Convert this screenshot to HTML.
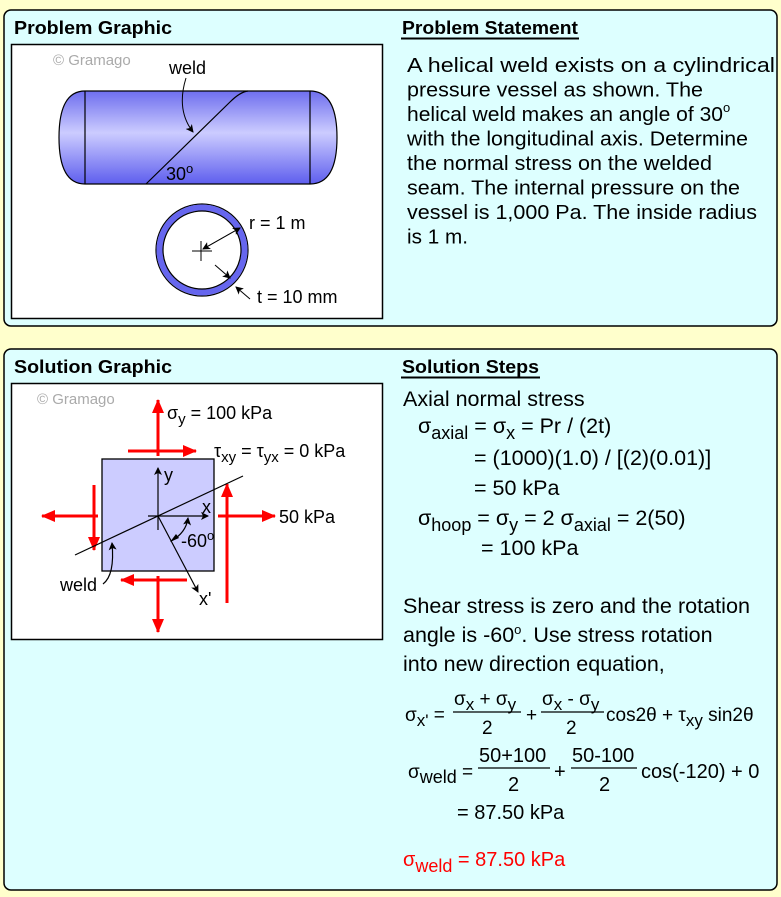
<!DOCTYPE html>
<html><head><meta charset="utf-8"><style>
html,body{margin:0;padding:0;background:#ffffcc;}
svg{display:block;font-family:"Liberation Sans",Arial,sans-serif;}
</style></head><body>
<svg width="781" height="897" viewBox="0 0 781 897" xmlns="http://www.w3.org/2000/svg">
<defs>
<linearGradient id="cyl" x1="0" y1="0" x2="0" y2="1">
<stop offset="0" stop-color="#6e6eee"/><stop offset="0.45" stop-color="#ccccff"/><stop offset="1" stop-color="#5e5eee"/>
</linearGradient>
<marker id="ah" markerWidth="8" markerHeight="8" refX="7" refY="4" orient="auto" markerUnits="userSpaceOnUse"><path d="M0,0 L8,4 L0,8 L2,4 z" fill="#000"/></marker>
<marker id="rh" markerWidth="14" markerHeight="12" refX="13" refY="6" orient="auto" markerUnits="userSpaceOnUse"><path d="M0,0 L14,6 L0,12 z" fill="#ff0000"/></marker>
</defs>
<rect x="0" y="0" width="781" height="897" fill="#ffffcc"/>
<rect x="4" y="10" width="773" height="316" rx="7" fill="#ddffff" stroke="#000" stroke-width="1.5"/>
<rect x="4" y="349" width="773" height="541" rx="7" fill="#ddffff" stroke="#000" stroke-width="1.5"/>
<g font-size="18" font-weight="bold">
<text x="14" y="34" textLength="158" lengthAdjust="spacingAndGlyphs">Problem Graphic</text>
<text x="402" y="34" textLength="176" lengthAdjust="spacingAndGlyphs">Problem Statement</text>
<text x="14" y="373" textLength="158" lengthAdjust="spacingAndGlyphs">Solution Graphic</text>
<text x="402" y="373" textLength="137" lengthAdjust="spacingAndGlyphs">Solution Steps</text>
</g>
<line x1="401" y1="38.5" x2="579" y2="38.5" stroke="#000" stroke-width="2"/>
<line x1="401" y1="377.5" x2="540" y2="377.5" stroke="#000" stroke-width="2"/>

<rect x="11.5" y="44.5" width="371" height="274" fill="#fff" stroke="#000" stroke-width="1.5"/>
<text x="53" y="65" font-size="15" fill="#aaa">© Gramago</text>
<path d="M85,91 L310,91 Q337,91 337,137.5 Q337,184 310,184 L85,184 Q59,184 59,137.5 Q59,91 85,91 z" fill="url(#cyl)" stroke="#000" stroke-width="1.2"/>
<line x1="85" y1="91" x2="85" y2="184" stroke="#000" stroke-width="1.2"/>
<line x1="310" y1="91" x2="310" y2="184" stroke="#000" stroke-width="1.2"/>
<path d="M146,184 L230,102 Q240,92 248,91" fill="none" stroke="#000" stroke-width="1.2"/>
<text x="169" y="74" font-size="18">weld</text>
<path d="M186,78 Q176,110 193,132" fill="none" stroke="#000" stroke-width="1" marker-end="url(#ah)"/>
<text x="166" y="180" font-size="18">30<tspan font-size="13" dy="-7">o</tspan></text>
<circle cx="202" cy="250" r="46" fill="none" stroke="#000" stroke-width="1.2"/>
<circle cx="202" cy="250" r="42.5" fill="none" stroke="#6666ee" stroke-width="6"/>
<circle cx="202" cy="250" r="39" fill="#fff" stroke="#000" stroke-width="1.2"/>
<line x1="192" y1="251" x2="212" y2="251" stroke="#000"/><line x1="201" y1="241" x2="201" y2="261" stroke="#000"/>
<line x1="203" y1="249" x2="240" y2="228" stroke="#000" marker-end="url(#ah)"/>
<line x1="240" y1="228" x2="203" y2="249" stroke="#000" marker-end="url(#ah)"/>
<text x="249" y="229" font-size="18">r = 1 m</text>
<line x1="215" y1="265" x2="230" y2="278" stroke="#000" marker-end="url(#ah)"/>
<line x1="250" y1="299" x2="236" y2="287" stroke="#000" marker-end="url(#ah)"/>
<text x="257" y="303" font-size="18">t = 10 mm</text>

<g font-size="20.5">
<text x="407" y="72" textLength="368" lengthAdjust="spacingAndGlyphs">A helical weld exists on a cylindrical</text>
<text x="407" y="96.5" textLength="296" lengthAdjust="spacingAndGlyphs">pressure vessel as shown. The</text>
<text x="407" y="121"><tspan textLength="316" lengthAdjust="spacingAndGlyphs">helical weld makes an angle of 30</tspan><tspan font-size="13" dy="-9">o</tspan></text>
<text x="407" y="145.5" textLength="341" lengthAdjust="spacingAndGlyphs">with the longitudinal axis. Determine</text>
<text x="407" y="170" textLength="305" lengthAdjust="spacingAndGlyphs">the normal stress on the welded</text>
<text x="407" y="194.5" textLength="333" lengthAdjust="spacingAndGlyphs">seam. The internal pressure on the</text>
<text x="407" y="219" textLength="350" lengthAdjust="spacingAndGlyphs">vessel is 1,000 Pa. The inside radius</text>
<text x="407" y="243.5" textLength="61" lengthAdjust="spacingAndGlyphs">is 1 m.</text>
</g>

<rect x="11.5" y="383.5" width="371" height="256" fill="#fff" stroke="#000" stroke-width="1.5"/>
<text x="37" y="404" font-size="15" fill="#aaa">© Gramago</text>
<rect x="102" y="459" width="112" height="112" fill="#ccccff" stroke="#000" stroke-width="1.3"/>
<g stroke="#ff0000" stroke-width="3" fill="none">
<line x1="158" y1="456" x2="158" y2="400" marker-end="url(#rh)"/>
<line x1="128" y1="451" x2="196" y2="451" marker-end="url(#rh)"/>
<line x1="158" y1="576" x2="158" y2="632" marker-end="url(#rh)"/>
<line x1="187" y1="580" x2="121" y2="580" marker-end="url(#rh)"/>
<line x1="98" y1="516" x2="42" y2="516" marker-end="url(#rh)"/>
<line x1="94" y1="485" x2="94" y2="550" marker-end="url(#rh)"/>
<line x1="218" y1="516" x2="275" y2="516" marker-end="url(#rh)"/>
<line x1="227" y1="603" x2="227" y2="484" marker-end="url(#rh)"/>
</g>
<g stroke="#000" stroke-width="1.2" fill="none">
<line x1="75" y1="555" x2="243" y2="476"/>
<line x1="158" y1="516" x2="158" y2="468" marker-end="url(#ah)"/>
<line x1="158" y1="516" x2="158" y2="530"/>
<line x1="148" y1="516" x2="208" y2="516" marker-end="url(#ah)"/>
<line x1="158" y1="516" x2="198" y2="592" marker-end="url(#ah)"/>
<path d="M171,541 Q186,533 188,518" marker-end="url(#ah)"/>
<path d="M103,584 Q115,575 112,543" marker-end="url(#ah)"/>
</g>
<path d="M176,534 L170,542 L179,538 z" fill="#000"/>
<g font-size="18">
<text x="167" y="419">σ<tspan font-size="15" dy="5">y</tspan><tspan dy="-5"> = 100 kPa</tspan></text>
<text x="214" y="457">τ<tspan font-size="15" dy="5">xy</tspan><tspan dy="-5"> = τ</tspan><tspan font-size="15" dy="5">yx</tspan><tspan dy="-5"> = 0 kPa</tspan></text>
<text x="164" y="481">y</text>
<text x="202" y="513">x</text>
<text x="279" y="523">50 kPa</text>
<text x="181" y="547">-60<tspan font-size="13" dy="-7">o</tspan></text>
<text x="60" y="591">weld</text>
<text x="199" y="605">x'</text>
</g>

<g font-size="21.5">
<text x="403" y="406">Axial normal stress</text>
<text x="418" y="433">σ<tspan font-size="18" dy="6">axial</tspan><tspan dy="-6"> = σ</tspan><tspan font-size="18" dy="6">x</tspan><tspan dy="-6"> = Pr / (2t)</tspan></text>
<text x="474" y="465">= (1000)(1.0) / [(2)(0.01)]</text>
<text x="474" y="495">= 50 kPa</text>
<text x="418" y="525">σ<tspan font-size="18" dy="6">hoop</tspan><tspan dy="-6"> = σ</tspan><tspan font-size="18" dy="6">y</tspan><tspan dy="-6"> = 2 σ</tspan><tspan font-size="18" dy="6">axial</tspan><tspan dy="-6"> = 2(50)</tspan></text>
<text x="481" y="555">= 100 kPa</text>
<text x="403" y="613" textLength="347" lengthAdjust="spacingAndGlyphs">Shear stress is zero and the rotation</text>
<text x="403" y="642">angle is -60<tspan font-size="13" dy="-8">o</tspan><tspan dy="8">. Use stress rotation</tspan></text>
<text x="403" y="671">into new direction equation,</text>
</g>
<g font-size="19">
<text x="405" y="721">σ<tspan font-size="17" dy="5">x'</tspan><tspan dy="-5"> =</tspan></text>
<text x="454" y="705">σ<tspan font-size="17" dy="5">x</tspan><tspan dy="-5"> + σ</tspan><tspan font-size="17" dy="5">y</tspan></text>
<line x1="453" y1="712" x2="521" y2="712" stroke="#000" stroke-width="1.2"/>
<text x="482" y="734">2</text>
<text x="526" y="721">+</text>
<text x="542" y="705">σ<tspan font-size="17" dy="5">x</tspan><tspan dy="-5"> - σ</tspan><tspan font-size="17" dy="5">y</tspan></text>
<line x1="541" y1="712" x2="604" y2="712" stroke="#000" stroke-width="1.2"/>
<text x="566" y="734">2</text>
<text x="606" y="721">cos2θ + τ<tspan font-size="17" dy="5">xy</tspan><tspan dy="-5"> sin2θ</tspan></text>
<text x="408" y="778" font-size="19">σ<tspan font-size="18" dy="5">weld</tspan><tspan dy="-5"> =</tspan></text>
<text x="479" y="762" font-size="20">50+100</text>
<line x1="478" y1="768" x2="550" y2="768" stroke="#000" stroke-width="1.2"/>
<text x="508" y="791" font-size="20">2</text>
<text x="554" y="778" font-size="20">+</text>
<text x="572" y="762" font-size="20">50-100</text>
<line x1="571" y1="768" x2="637" y2="768" stroke="#000" stroke-width="1.2"/>
<text x="599" y="791" font-size="20">2</text>
<text x="641" y="778" font-size="20">cos(-120) + 0</text>
<text x="457" y="819" font-size="20">= 87.50 kPa</text>
</g>
<text x="403" y="866" font-size="20" fill="#ff0000">σ<tspan font-size="18" dy="6">weld</tspan><tspan dy="-6"> = 87.50 kPa</tspan></text>
</svg>
</body></html>
